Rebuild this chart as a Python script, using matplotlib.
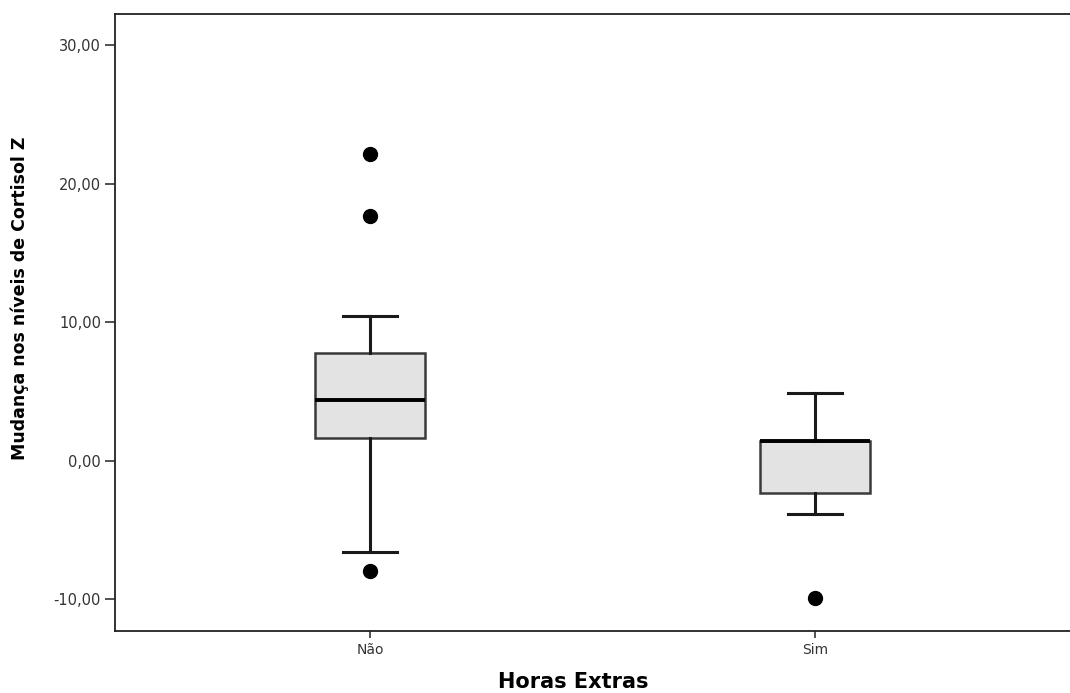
import matplotlib
matplotlib.use("Agg")
import matplotlib.pyplot as plt

# data
groups = ["Não", "Sim"]
q1 = [1.66, -2.38]
med = [4.40, 1.44]
q3 = [7.73, 1.44]
whislo = [-6.64, -3.83]
whishi = [10.40, 4.84]
fliers = [[22.1, 17.65, -8.0], [-9.95]]
yticks = [-10, 0, 10, 20, 30]

stats = []
for i, g in enumerate(groups):
    stats.append(dict(label=g, q1=q1[i], med=med[i], q3=q3[i],
                      whislo=whislo[i], whishi=whishi[i], fliers=fliers[i]))

fig = plt.figure(figsize=(10.7, 6.93), dpi=100)
ax = fig.add_axes([115 / 1070, 1 - 631 / 693, (1070 - 115) / 1070, (631 - 14) / 693])

ax.bxp(stats, positions=[0, 1], widths=0.247, patch_artist=True,
       boxprops=dict(facecolor="#e3e3e3", edgecolor="#3a3a3a", linewidth=1.8),
       medianprops=dict(color="black", linewidth=2.8),
       whiskerprops=dict(color="#1a1a1a", linewidth=2.2),
       capprops=dict(color="#1a1a1a", linewidth=2.2),
       flierprops=dict(marker="o", markerfacecolor="black", markeredgecolor="black",
                       markersize=10),
       capwidths=0.123)

ax.set_xlim(-0.573, 1.573)
ax.set_ylim(-12.31, 32.24)
ax.set_yticks(yticks)
ax.set_yticklabels(["%d,00" % v for v in yticks], fontsize=10.5, color="#333333")
ax.set_xticks([0, 1])
ax.set_xticklabels(groups, fontsize=10, color="#333333")
ax.tick_params(axis="y", length=7, width=1.2, color="#333333", pad=3)
ax.tick_params(axis="x", length=5, width=1.2, color="#333333", pad=4)
ax.spines["right"].set_visible(False)
for s in ["left", "top", "bottom"]:
    ax.spines[s].set_linewidth(1.3)
    ax.spines[s].set_color("#222222")

fig.text(20 / 1070, 1 - 298 / 693, "Mudança nos níveis de Cortisol Z", rotation=90,
         fontsize=12.5, fontweight="bold", ha="center", va="center")
fig.text(573 / 1070, 1 - 682 / 693, "Horas Extras", fontsize=15, fontweight="bold",
         ha="center", va="center")

fig.savefig("out.png", dpi=100)
